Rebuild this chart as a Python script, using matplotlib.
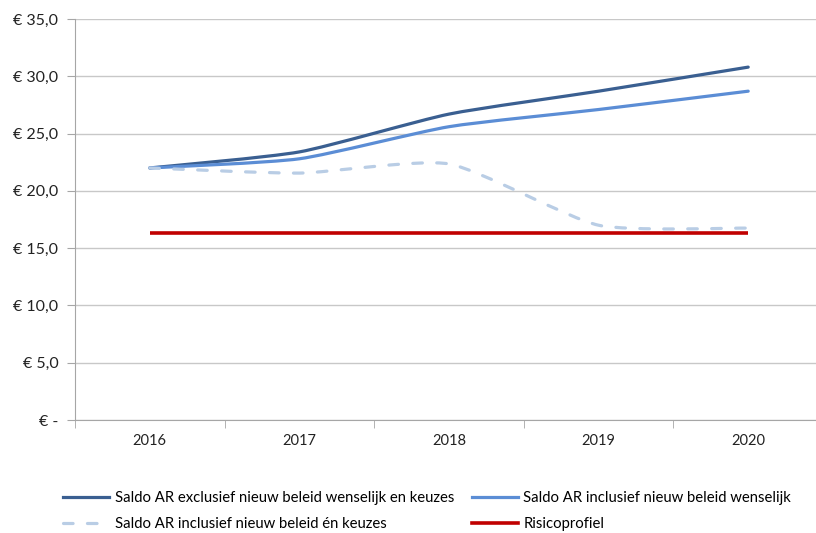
import numpy as np
import matplotlib.pyplot as plt
from matplotlib.path import Path
from matplotlib.patches import PathPatch
from matplotlib.lines import Line2D

plt.rcParams['font.family'] = ['Lato', 'DejaVu Sans']

years = ['2016', '2017', '2018', '2019', '2020']
saldo_excl = [22.0, 23.4, 26.7, 28.7, 30.8]
saldo_incl_wens = [22.0, 22.8, 25.6, 27.1, 28.7]
saldo_incl_keuzes = [22.0, 21.55, 22.35, 17.0, 16.75]
risicoprofiel = [16.3, 16.3, 16.3, 16.3, 16.3]

labels = ['Saldo AR exclusief nieuw beleid wenselijk en keuzes',
          'Saldo AR inclusief nieuw beleid wenselijk',
          'Saldo AR inclusief nieuw beleid én keuzes',
          'Risicoprofiel']
colors = ['#3A5F91', '#5B8DD5', '#B9CDE5', '#C00000']
widths = [2.3, 2.3, 2.3, 2.6]
styles = ['-', '-', (0, (3, 4.5)), '-']


def smooth_path(xs, ys, k=10.0):
    # lightly smoothed line (excel style), cubic bezier segments
    pts = np.column_stack([xs, ys]).astype(float)
    ext = np.vstack([pts[0], pts, pts[-1]])
    verts = [pts[0]]
    codes = [Path.MOVETO]
    for i in range(1, len(ext) - 2):
        p0, p1, p2, p3 = ext[i - 1], ext[i], ext[i + 1], ext[i + 2]
        verts += [p1 + (p2 - p0) / k, p2 - (p3 - p1) / k, p2]
        codes += [Path.CURVE4] * 3
    return Path(verts, codes)


fig = plt.figure(figsize=(8.16, 5.33), dpi=100)
ax = fig.add_axes([75 / 816, 1 - 420 / 533, 748 / 816, 401 / 533])

x = np.arange(1, len(years) + 1)
series = [saldo_excl, saldo_incl_wens, saldo_incl_keuzes, risicoprofiel]
for ys, c, lw, ls in zip(series, colors, widths, styles):
    if ys is risicoprofiel:
        ax.plot(x, ys, color=c, lw=lw, solid_capstyle='butt')
    else:
        ax.add_patch(PathPatch(smooth_path(x, ys), fill=False, edgecolor=c,
                               lw=lw, linestyle=ls, capstyle='round'))

ax.set_xlim(0.5, 5.5)
ax.set_ylim(0, 35)
ax.set_yticks(np.arange(0, 36, 5))
ax.set_yticklabels(['€ -'] + [('€ %.1f' % v).replace('.', ',') for v in np.arange(5, 36, 5)])
ax.set_xticks(x)
ax.set_xticklabels(years)
ax.set_xticks(np.arange(0.5, 6, 1), minor=True)
ax.tick_params(axis='x', which='major', length=0, pad=10, labelsize=10.5)
ax.tick_params(axis='x', which='minor', length=6, color='#A6A6A6', direction='out')
ax.tick_params(axis='y', length=6, color='#A6A6A6', pad=6, labelsize=11.5)
for lab in ax.get_yticklabels() + ax.get_xticklabels():
    lab.set_color('#222222')

ax.grid(axis='y', color='#C8C8C8', lw=1)
ax.set_axisbelow(True)
for s in ['top', 'right']:
    ax.spines[s].set_visible(False)
ax.spines['left'].set_color('#A6A6A6')
ax.spines['bottom'].set_color('#A6A6A6')

handles = [Line2D([], [], color=c, lw=lw, linestyle=ls, dash_capstyle='round')
           for c, lw, ls in zip(colors, widths, styles)]
order = [0, 2, 1, 3]
fig.legend([handles[i] for i in order], [labels[i] for i in order], ncol=2,
           loc='lower left', bbox_to_anchor=(53 / 816, -0.016), frameon=False,
           fontsize=10.7, handlelength=3.1, columnspacing=1.2, labelspacing=0.8,
           handletextpad=0.35, borderaxespad=0.3)

fig.savefig('out.png', dpi=100)
